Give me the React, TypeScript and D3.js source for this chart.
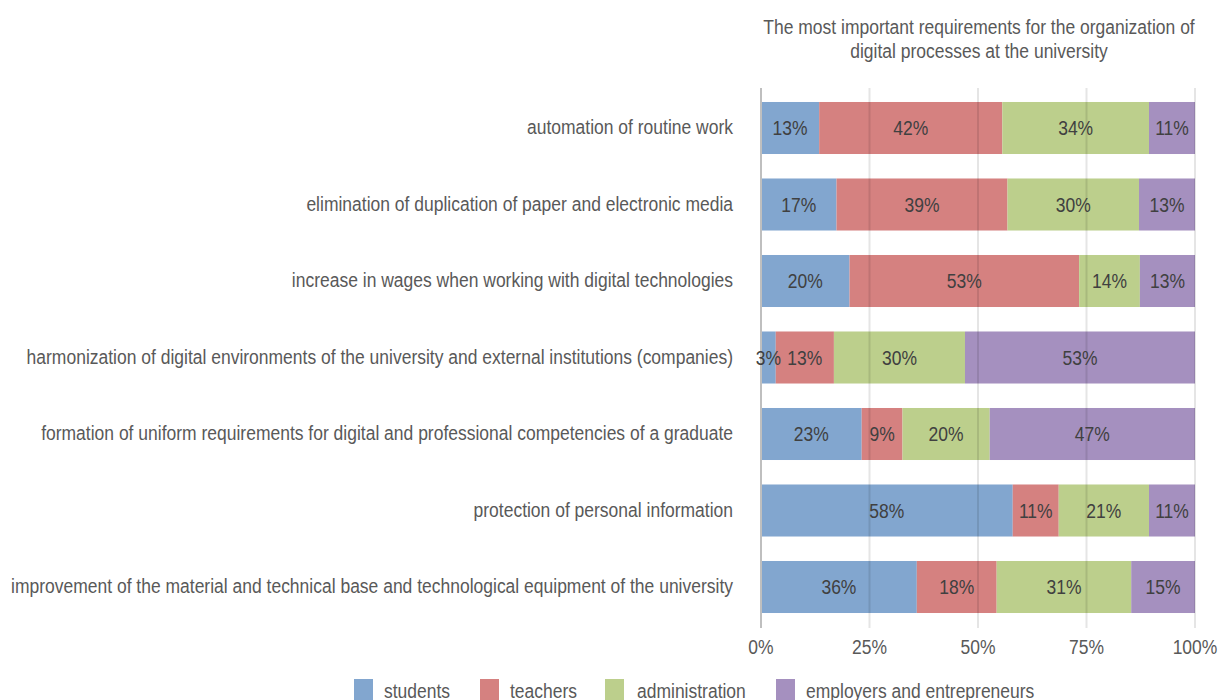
import React from "react";
import * as d3 from "d3";

const categories = [
  "automation of routine work",
  "elimination of duplication of paper and electronic media",
  "increase in wages when working with digital technologies",
  "harmonization of digital environments of the university and external institutions (companies)",
  "formation of uniform requirements for digital and professional competencies of a graduate",
  "protection of personal information",
  "improvement of the material and technical base and technological equipment of the university",
];
const seriesNames = ["students", "teachers", "administration", "employers and entrepreneurs"];
const students = [13.4, 17.4, 20.4, 3.4, 23.2, 58.0, 35.9];
const teachers = [42.2, 39.4, 52.9, 13.4, 9.4, 10.6, 18.4];
const administration = [33.8, 30.3, 14.0, 30.2, 20.1, 20.8, 31.0];
const employers = [10.6, 12.9, 12.7, 53.0, 47.3, 10.6, 14.7];
const xTicks = [0, 25, 50, 75, 100];
const colors = ["#82a6cf", "#d58180", "#bccf8c", "#a590bf"];
const titleLines = [
  "The most important requirements for the organization of",
  "digital processes at the university",
];

const FONT = "'Liberation Sans', Arial, sans-serif";
const SX = 0.833;
const FS = 21;

function NText(props: { x: number; y: number; anchor?: string; size?: number; fill: string; children: any }) {
  const { x, y, anchor = "start", size = FS, fill, children } = props;
  return (
    <text
      transform={`translate(${x},${y}) scale(${SX},1)`}
      textAnchor={anchor}
      dominantBaseline="central"
      fontSize={size}
      fill={fill}
    >
      {children}
    </text>
  );
}

export default function App() {
  const W = 1226, H = 700;
  const x = d3.scaleLinear().domain([0, 100]).range([761, 1195]);
  const y = d3.scaleBand<string>().domain(categories).range([89.75, 625.25]).paddingInner(0.32).paddingOuter(0.16);
  const rows = categories.map((c, i) => ({
    cat: c,
    students: students[i],
    teachers: teachers[i],
    administration: administration[i],
    employers: employers[i],
  }));
  const keys = ["students", "teachers", "administration", "employers"];
  const stack = d3.stack<any>().keys(keys)(rows);
  const legendX = [354, 480, 605, 776];
  const legendTX = [384, 510, 637, 806];
  const textColor = "#595959";
  return (
    <svg width={W} height={H} style={{ position: "absolute", left: 0, top: 0, background: "#fff" }} fontFamily={FONT}>
      {titleLines.map((t, i) => (
        <NText key={i} x={979} y={27 + i * 24} anchor="middle" size={21} fill={textColor}>{t}</NText>
      ))}
      {stack.map((s, si) => (
        <g key={si}>
          {s.map((d, di) => (
            <rect key={di} x={x(d[0])} y={y(categories[di])!} width={x(d[1]) - x(d[0])} height={y.bandwidth()} fill={colors[si]} />
          ))}
        </g>
      ))}
      {xTicks.slice(1).map((t) => (
        <line key={t} x1={x(t)} x2={x(t)} y1={88} y2={628} stroke="#000" strokeOpacity={0.1} strokeWidth={2} />
      ))}
      <line x1={x(0)} x2={x(0)} y1={88} y2={628} stroke="#bfbfbf" strokeWidth={2} />
      {stack.map((s, si) => (
        <g key={"l" + si}>
          {s.map((d, di) => (
            <NText key={di} x={(x(d[0]) + x(d[1])) / 2} y={y(categories[di])! + y.bandwidth() / 2} anchor="middle" fill="#404040">
              {Math.round(d[1] - d[0]) + "%"}
            </NText>
          ))}
        </g>
      ))}
      {categories.map((c) => (
        <NText key={c} x={733} y={y(c)! + y.bandwidth() / 2 - 1} anchor="end" fill={textColor}>{c}</NText>
      ))}
      {xTicks.map((t) => (
        <NText key={t} x={x(t)} y={647} anchor="middle" fill={textColor}>{t + "%"}</NText>
      ))}
      {seriesNames.map((n, i) => (
        <g key={n}>
          <rect x={legendX[i]} y={679} width={19} height={21} fill={colors[i]} />
          <NText x={legendTX[i]} y={691} fill={textColor}>{n}</NText>
        </g>
      ))}
    </svg>
  );
}
